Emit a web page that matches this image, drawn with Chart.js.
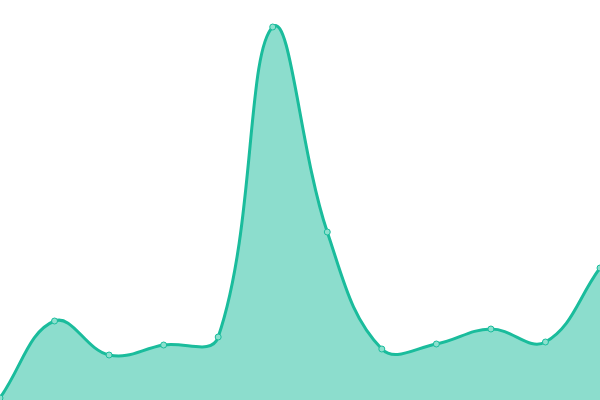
<!DOCTYPE html>
<html>
<head>
<meta charset="utf-8">
<script src="https://cdn.jsdelivr.net/npm/chart.js@4/dist/chart.umd.min.js"></script>
<style>
  html, body { margin: 0; padding: 0; background: #fff; }
  #wrap { width: 600px; height: 400px; position: relative; }
</style>
</head>
<body>
<div id="wrap"><canvas id="chart"></canvas></div>
<script>
const labels = ['1', '2', '3', '4', '5', '6', '7', '8', '9', '10', '11', '12'];
const values = [2, 79, 45, 55, 63, 373, 168, 51, 56, 71, 58, 132];
const yMin = 0;
const yMax = 400;

const ctx = document.getElementById('chart').getContext('2d');
new Chart(ctx, {
    type: 'line',
    data: {
        labels: labels,
        datasets: [{
            data: values,
            borderColor: '#1abc9c',
            backgroundColor: 'rgba(26, 188, 156, 0.5)',
            borderWidth: 3,
            fill: 'start',
            tension: 0.4,
            pointRadius: 3,
            pointBorderWidth: 1,
            pointBackgroundColor: 'rgba(140, 224, 206, 1)',
            pointBorderColor: '#1abc9c'
        }]
    },
    options: {
        responsive: true,
        maintainAspectRatio: false,
        animation: false,
        layout: { padding: 0, autoPadding: false },
        plugins: { legend: { display: false }, tooltip: { enabled: false } },
        scales: {
            x: { display: false, offset: false },
            y: { display: false, min: yMin, max: yMax }
        }
    }
});
</script>
</body>
</html>
